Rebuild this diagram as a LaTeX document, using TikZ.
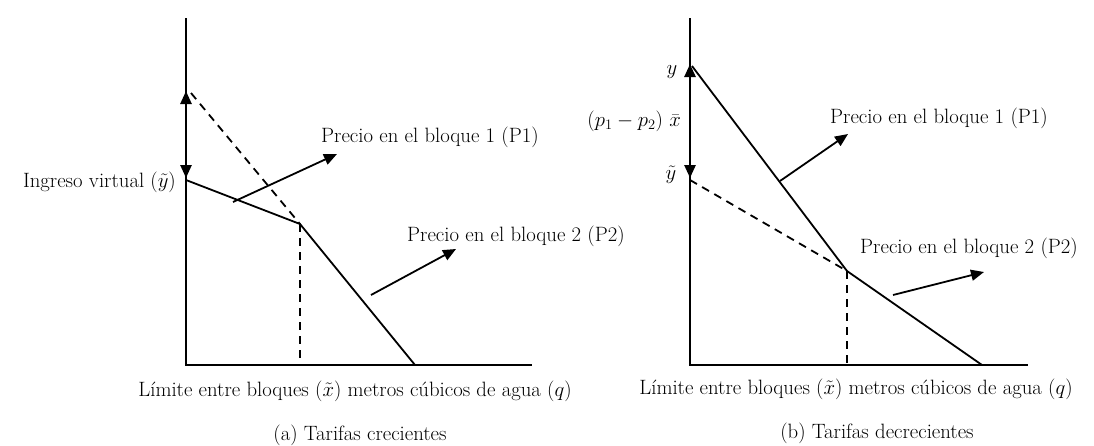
\documentclass[tikz,border=0pt]{standalone}
\usepackage{fontspec}
\usetikzlibrary{arrows.meta}
\begin{document}
\begin{tikzpicture}[x=1pt,y=-1pt,
  axis/.style={line width=2.6pt},
  curve/.style={line width=1.8pt},
  dashline/.style={line width=1.8pt,dash pattern=on 8pt off 6pt},
  tip/.style={-{Triangle[length=13pt,width=11pt]}},
  dtip/.style={{Triangle[length=13pt,width=11pt]}-{Triangle[length=13pt,width=11pt]}},
  lbl/.style={inner sep=0pt,font=\fontsize{20.74}{24}\selectfont}]
\useasboundingbox (0,0) rectangle (1094,445);
% ---------- panel (a)
\coordinate (a0) at (186,365);
\coordinate (atop) at (186,18);
\coordinate (ax) at (532,365);
\coordinate (aA) at (186,180);
\coordinate (aK) at (300,224);
\coordinate (aE) at (415,365);
\coordinate (aD) at (191,93);
\coordinate (aKb) at (300,365);
\coordinate (ad1) at (186,178);
\coordinate (ad2) at (186,91);
\coordinate (ap1s) at (233,202);
\coordinate (ap1e) at (337,154);
\coordinate (ap2s) at (371,295);
\coordinate (ap2e) at (456,249);
\draw[axis] (atop) -- (a0) -- (ax);
\draw[axis,dtip] (ad1) -- (ad2);
\draw[curve] (aA) -- (aK) -- (aE);
\draw[dashline] (aD) -- (aK);
\draw[dashline] (aK) -- (aKb);
\draw[curve,tip] (ap1s) -- (ap1e);
\draw[curve,tip] (ap2s) -- (ap2e);
\node[lbl,anchor=west] (aP1) at (321,137) {Precio en el bloque 1 (P1)};
\node[lbl,anchor=west] (aP2) at (407,236) {Precio en el bloque 2 (P2)};
\node[lbl,anchor=east] (aIng) at (176,182) {Ingreso virtual ($\tilde{y}$)};
\node[lbl] (aXl) at (355,391) {Límite entre bloques ($\tilde{x}$) metros cúbicos de agua ($q$)};
\node[lbl] (aCap) at (360,435) {(a) Tarifas crecientes};
% ---------- panel (b)
\coordinate (b0) at (690,365);
\coordinate (btop) at (690,18);
\coordinate (bx) at (1028,365);
\coordinate (bA) at (692,66);
\coordinate (bK) at (847,271);
\coordinate (bE) at (982,365);
\coordinate (bD) at (690,180);
\coordinate (bKb) at (847,365);
\coordinate (bd1) at (690,178);
\coordinate (bd2) at (690,64);
\coordinate (bp1s) at (780,181);
\coordinate (bp1e) at (848,134);
\coordinate (bp2s) at (893,295);
\coordinate (bp2e) at (984,272);
\draw[axis] (btop) -- (b0) -- (bx);
\draw[axis,dtip] (bd1) -- (bd2);
\draw[curve] (bA) -- (bK) -- (bE);
\draw[dashline] (bD) -- (bK);
\draw[dashline] (bK) -- (bKb);
\draw[curve,tip] (bp1s) -- (bp1e);
\draw[curve,tip] (bp2s) -- (bp2e);
\node[lbl,anchor=west] (bP1) at (830,118) {Precio en el bloque 1 (P1)};
\node[lbl,anchor=west] (bP2) at (860,248) {Precio en el bloque 2 (P2)};
\node[lbl] (by) at (672,72) {$y$};
\node[lbl,anchor=east] (bpx) at (681,121) {$(p_1-p_2)\ \bar{x}$};
\node[lbl] (byt) at (671,175) {$\tilde{y}$};
\node[lbl] (bXl) at (856,389) {Límite entre bloques ($\tilde{x}$) metros cúbicos de agua ($q$)};
\node[lbl] (bCap) at (877,433) {(b) Tarifas decrecientes};
\end{tikzpicture}
\end{document}
